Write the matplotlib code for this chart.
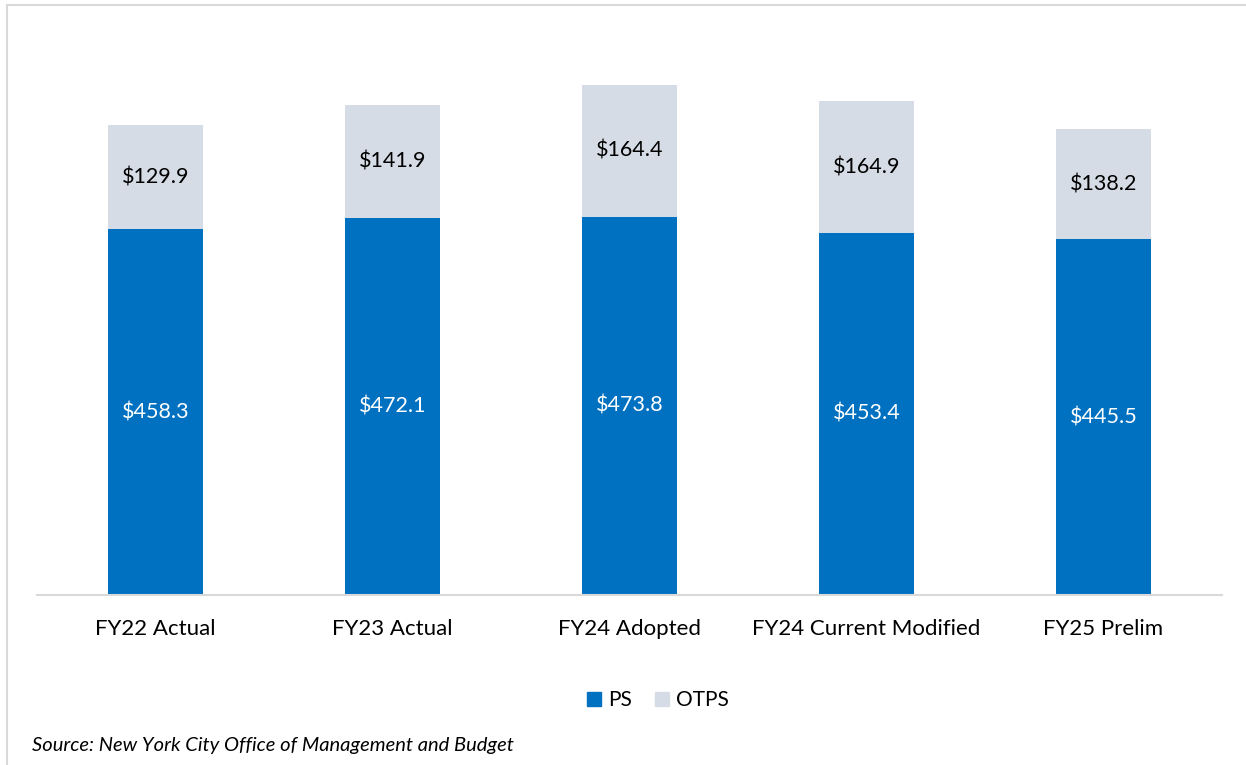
import matplotlib
matplotlib.use("Agg")
import matplotlib.pyplot as plt
from matplotlib.lines import Line2D
from matplotlib.patches import Patch

categories = ["FY22 Actual", "FY23 Actual", "FY24 Adopted", "FY24 Current Modified", "FY25 Prelim"]
ps = [458.3, 472.1, 473.8, 453.4, 445.5]
otps = [129.9, 141.9, 164.4, 164.9, 138.2]

PS_COLOR = "#0070C0"
OTPS_COLOR = "#D6DCE5"
FONT = ["Lato", "DejaVu Sans"]

W, H = 1246, 765
fig = plt.figure(figsize=(W / 100, H / 100), dpi=100)
plt.rcParams['font.family'] = FONT

# axes: x from 37 to 1222 px, baseline at y=595, top at y=20
ax = fig.add_axes([37 / W, 1 - 595 / H, (1222 - 37) / W, (595 - 20) / H])
x = list(range(len(categories)))
ax.bar(x, ps, width=0.4, color=PS_COLOR, zorder=2)
ax.bar(x, otps, width=0.4, bottom=ps, color=OTPS_COLOR, zorder=2)

for i in x:
    ax.text(i, ps[i] / 2, f"${ps[i]:.1f}", ha="center", va="center",
            color="white", fontsize=15.5)
    ax.text(i, ps[i] + otps[i] / 2, f"${otps[i]:.1f}", ha="center", va="center",
            color="black", fontsize=15.5)

ax.set_xlim(-0.5, len(categories) - 0.5)
ax.set_ylim(0, (595 - 20) / 0.7986)
ax.set_xticks(x)
ax.set_xticklabels(categories, fontsize=16)
ax.tick_params(axis="x", length=0, pad=17)
ax.set_yticks([])
for s in ["top", "right", "left"]:
    ax.spines[s].set_visible(False)
ax.spines["bottom"].set_color("#D9D9D9")
ax.spines["bottom"].set_linewidth(1.5)

handles = [Patch(color=PS_COLOR, label="PS"), Patch(color=OTPS_COLOR, label="OTPS")]
fig.legend(handles=handles, loc="center", bbox_to_anchor=(658 / W, 1 - 700 / H),
           ncol=2, frameon=False, fontsize=15, handlelength=0.65, handleheight=0.65,
           handletextpad=0.35, columnspacing=1.1)

fig.text(32 / W, 1 - 746 / H, "Source: New York City Office of Management and Budget",
         fontsize=14.5, style="italic", ha="left", va="center")

# frame border (top and left only)
fig.add_artist(Line2D([7 / W, 1.0], [1 - 5 / H, 1 - 5 / H], transform=fig.transFigure,
                      color="#D9D9D9", linewidth=1.5))
fig.add_artist(Line2D([7 / W, 7 / W], [0, 1 - 5 / H], transform=fig.transFigure,
                      color="#D9D9D9", linewidth=1.5))

fig.savefig("out.png", dpi=100)
